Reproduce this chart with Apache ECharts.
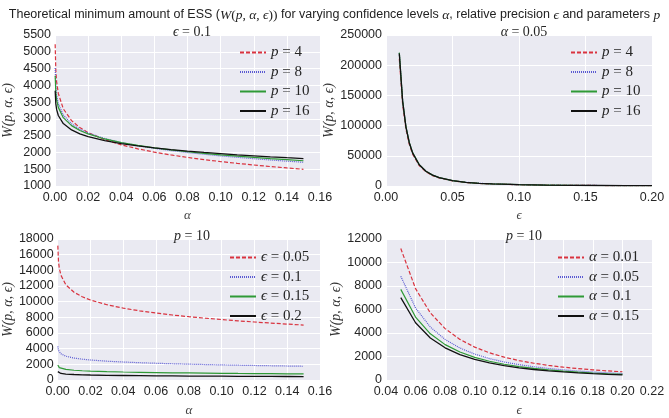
<!DOCTYPE html>
<html>
<head>
<meta charset="utf-8">
<script src="https://cdn.jsdelivr.net/npm/echarts@6/dist/echarts.min.js"></script>
<style>
html,body{margin:0;padding:0;background:#fff;}
#c{width:669px;height:418px;}
</style>
</head>
<body>
<div id="c"></div>
<script>
// ---- data ----
const alphaGrid = [0.0001, 0.0005, 0.001, 0.002, 0.005, 0.01, 0.015, 0.02, 0.03, 0.04, 0.05, 0.06, 0.07, 0.08, 0.09, 0.10, 0.11, 0.12, 0.13, 0.14, 0.15];
// panel 1: eps = 0.1
const W_p4_a = [5223, 4443, 4102, 3759, 3301, 2949, 2741, 2592, 2380, 2227, 2108, 2009, 1925, 1852, 1787, 1728, 1675, 1626, 1580, 1538, 1498];
const W_p8_a = [4518, 3956, 3708, 3456, 3116, 2852, 2693, 2579, 2414, 2295, 2201, 2123, 2055, 1997, 1945, 1897, 1854, 1813, 1776, 1740, 1708];
const W_p10_a = [4288, 3789, 3568, 3343, 3037, 2799, 2655, 2552, 2402, 2294, 2208, 2136, 2074, 2021, 1972, 1928, 1888, 1851, 1817, 1785, 1753];
const W_p16_a = [3839, 3447, 3276, 3101, 2860, 2671, 2556, 2473, 2353, 2264, 2195, 2135, 2085, 2040, 2000, 1965, 1930, 1900, 1870, 1843, 1818];
// panel 2: alpha = 0.05
const epsGrid2 = [0.01, 0.0125, 0.015, 0.0175, 0.02, 0.025, 0.03, 0.035, 0.04, 0.05, 0.06, 0.07, 0.08, 0.10, 0.12, 0.14, 0.16, 0.18, 0.20];
const W_p4_e = [210770, 134893, 93676, 68823, 52693, 33723, 23419, 17206, 13173, 8431, 5855, 4301, 3293, 2108, 1464, 1075, 823, 650, 527];
const W_p8_e = [220110, 140870, 97827, 71873, 55028, 35218, 24457, 17968, 13757, 8804, 6114, 4492, 3439, 2201, 1529, 1123, 860, 679, 550];
const W_p10_e = [220760, 141286, 98116, 72085, 55190, 35322, 24529, 18021, 13798, 8830, 6132, 4505, 3449, 2208, 1533, 1126, 862, 681, 552];
const W_p16_e = [219470, 140461, 97542, 71663, 54868, 35115, 24386, 17916, 13717, 8779, 6097, 4479, 3429, 2195, 1524, 1120, 857, 677, 549];
// panel 3: p = 10, varying eps
const W_e005 = [17152, 15156, 14272, 13372, 12148, 11196, 10620, 10208, 9608, 9176, 8832, 8544, 8296, 8084, 7888, 7712, 7552, 7404, 7268, 7140, 7012];
const W_e01 = [4288, 3789, 3568, 3343, 3037, 2799, 2655, 2552, 2402, 2294, 2208, 2136, 2074, 2021, 1972, 1928, 1888, 1851, 1817, 1785, 1753];
const W_e015 = [1906, 1684, 1586, 1486, 1350, 1244, 1180, 1134, 1068, 1020, 981, 949, 922, 898, 876, 857, 839, 823, 808, 793, 779];
const W_e02 = [1072, 947, 892, 836, 759, 700, 664, 638, 601, 574, 552, 534, 519, 505, 493, 482, 472, 463, 454, 446, 438];
// panel 4: p = 10, varying alpha
const epsGrid4 = [0.05, 0.06, 0.07, 0.08, 0.09, 0.10, 0.11, 0.12, 0.13, 0.14, 0.15, 0.16, 0.17, 0.18, 0.19, 0.20];
const W_a001 = [11195, 7774, 5712, 4373, 3455, 2799, 2313, 1944, 1656, 1428, 1244, 1093, 968, 864, 775, 700];
const W_a005 = [8830, 6132, 4505, 3449, 2725, 2208, 1824, 1533, 1306, 1126, 981, 862, 764, 681, 612, 552];
const W_a01 = [7712, 5355, 3934, 3012, 2380, 1928, 1593, 1339, 1141, 984, 857, 753, 667, 595, 534, 482];
const W_a015 = [7011, 4869, 3577, 2739, 2164, 1753, 1449, 1217, 1037, 894, 779, 685, 606, 541, 486, 438];

const legend1 = ['p = 4', 'p = 8', 'p = 10', 'p = 16'];
const legend3 = ['ϵ = 0.05', 'ϵ = 0.1', 'ϵ = 0.15', 'ϵ = 0.2'];
const legend4 = ['α = 0.01', 'α = 0.05', 'α = 0.1', 'α = 0.15'];

// ---- styling ----
const MATH = '"Liberation Serif", "DejaVu Serif", serif';
const SANS = '"Liberation Sans", Arial, sans-serif';
const TICK = '#262626';
const styles = [
  {color: '#d9333f', type: [4, 2], width: 1.2},
  {color: '#5a5ad2', type: [1, 1], width: 1.2},
  {color: '#2f9a36', type: 'solid', width: 1.2},
  {color: '#111111', type: 'solid', width: 1.3}
];
const grids = [
  {left: 54, top: 35, width: 266, height: 151},
  {left: 386, top: 35, width: 266, height: 151},
  {left: 54, top: 239, width: 266, height: 151},
  {left: 386, top: 239, width: 266, height: 151}
];
const xCfg = [
  {min: 0, max: 0.16, interval: 0.02, dec: 2, name: 'α', gap: 23},
  {min: 0, max: 0.20, interval: 0.05, dec: 2, name: 'ϵ', gap: 23},
  {min: 0, max: 0.16, interval: 0.02, dec: 2, name: 'α', gap: 24},
  {min: 0.04, max: 0.22, interval: 0.02, dec: 2, name: 'ϵ', gap: 24}
];
const yCfg = [
  {min: 1000, max: 5500, interval: 500},
  {min: 0, max: 250000, interval: 50000},
  {min: 0, max: 18000, interval: 2000},
  {min: 0, max: 12000, interval: 2000}
];

const xAxis = xCfg.map((c, i) => ({
  type: 'value', gridIndex: i, min: c.min, max: c.max, interval: c.interval,
  axisLine: {show: false}, axisTick: {show: false},
  splitLine: {show: true, lineStyle: {color: '#ffffff', width: 1}},
  axisLabel: {color: TICK, fontFamily: SANS, fontSize: 12.5, margin: 5,
    formatter: v => v.toFixed(c.dec)},
  name: c.name, nameLocation: 'middle', nameGap: c.gap,
  nameTextStyle: {fontFamily: MATH, fontStyle: 'italic', fontSize: 13, color: '#444'}
}));
const yAxis = yCfg.map((c, i) => ({
  type: 'value', gridIndex: i, min: c.min, max: c.max, interval: c.interval,
  axisLine: {show: false}, axisTick: {show: false},
  splitLine: {show: true, lineStyle: {color: '#ffffff', width: 1}},
  axisLabel: {color: TICK, fontFamily: SANS, fontSize: 12.5, margin: 4,
    formatter: v => String(Math.round(v))},
  name: 'W(p, α, ϵ)', nameLocation: 'middle', nameRotate: 90,
  nameGap: i === 1 ? 50 : 40,
  nameTextStyle: {fontFamily: MATH, fontStyle: 'italic', fontSize: 14, color: '#333'}
}));

function mk(name, xs, ys, gi, si) {
  return {
    type: 'line', name: name, xAxisIndex: gi, yAxisIndex: gi,
    data: xs.map((x, k) => [x, ys[k]]),
    showSymbol: false, symbol: 'none', animation: false,
    lineStyle: {color: styles[si].color, type: styles[si].type, width: styles[si].width},
    itemStyle: {color: styles[si].color}
  };
}
const series = [
  mk('p = 4', alphaGrid, W_p4_a, 0, 0), mk('p = 8', alphaGrid, W_p8_a, 0, 1),
  mk('p = 10', alphaGrid, W_p10_a, 0, 2), mk('p = 16', alphaGrid, W_p16_a, 0, 3),
  mk('p = 4', epsGrid2, W_p4_e, 1, 0), mk('p = 8', epsGrid2, W_p8_e, 1, 1),
  mk('p = 10', epsGrid2, W_p10_e, 1, 2), mk('p = 16', epsGrid2, W_p16_e, 1, 3),
  mk(legend3[0], alphaGrid, W_e005, 2, 0), mk(legend3[1], alphaGrid, W_e01, 2, 1),
  mk(legend3[2], alphaGrid, W_e015, 2, 2), mk(legend3[3], alphaGrid, W_e02, 2, 3),
  mk(legend4[0], epsGrid4, W_a001, 3, 0), mk(legend4[1], epsGrid4, W_a005, 3, 1),
  mk(legend4[2], epsGrid4, W_a01, 3, 2), mk(legend4[3], epsGrid4, W_a015, 3, 3)
];

const richMath = {
  i: {fontFamily: MATH, fontStyle: 'italic', fontWeight: 'normal', fontSize: 15, lineHeight: 14, color: '#262626'},
  u: {fontFamily: MATH, fontWeight: 'normal', fontSize: 15, lineHeight: 14, color: '#262626'}
};
const richSub = {
  i: {fontFamily: MATH, fontStyle: 'italic', fontWeight: 'normal', fontSize: 14, color: '#262626'},
  u: {fontFamily: MATH, fontWeight: 'normal', fontSize: 14, color: '#262626'}
};
function mathFmt(name) {
  const parts = name.split(' = ');
  return '{i|' + parts[0] + '}{u| = ' + parts[1] + '}';
}
function mkLegend(data, left, top) {
  return {
    data: data, left: left, top: top, orient: 'vertical',
    itemWidth: 26, itemHeight: 12, itemGap: 4.5, padding: 0,
    itemStyle: {opacity: 0},
    formatter: mathFmt, selectedMode: false,
    textStyle: {rich: richMath, lineHeight: 14}
  };
}

const subTitle = (txt, cx, top) => ({
  text: txt, left: cx, top: top, textAlign: 'center',
  textStyle: {rich: richSub, fontSize: 14, fontWeight: 'normal'}
});

const option = {
  animation: false,
  backgroundColor: '#ffffff',
  title: [
    {text: '{n|Theoretical minimum amount of ESS (}{i|W}{u|(}{i|p}{u|, }{i|α}{u|, }{i|ϵ}{u|))}{n| for varying confidence levels }{i|α}{n|, relative precision }{i|ϵ}{n| and parameters }{i|p}',
     left: 'center', top: 3,
     textStyle: {fontWeight: 'normal', rich: {
       n: {fontFamily: SANS, fontSize: 12.5, fontWeight: 'normal', color: '#222'},
       i: {fontFamily: MATH, fontStyle: 'italic', fontWeight: 'normal', fontSize: 13.5, color: '#222'},
       u: {fontFamily: MATH, fontWeight: 'normal', fontSize: 13.5, color: '#222'}
     }}},
    subTitle('{i|ϵ}{u| = 0.1}', 187, 20),
    subTitle('{i|α}{u| = 0.05}', 519, 20),
    subTitle('{i|p}{u| = 10}', 187, 224),
    subTitle('{i|p}{u| = 10}', 519, 224)
  ],
  grid: grids.map(g => Object.assign({backgroundColor: '#EAEAF2', show: true, borderWidth: 0}, g)),
  xAxis: xAxis,
  yAxis: yAxis,
  legend: [
    mkLegend(legend1, 239, 45),
    mkLegend(legend1, 570, 45),
    mkLegend(legend3, 229, 250),
    mkLegend(legend4, 557, 250)
  ],
  series: series
};
const chart = echarts.init(document.getElementById('c'), null, {renderer: 'canvas'});
chart.setOption(option);
</script>
</body>
</html>
